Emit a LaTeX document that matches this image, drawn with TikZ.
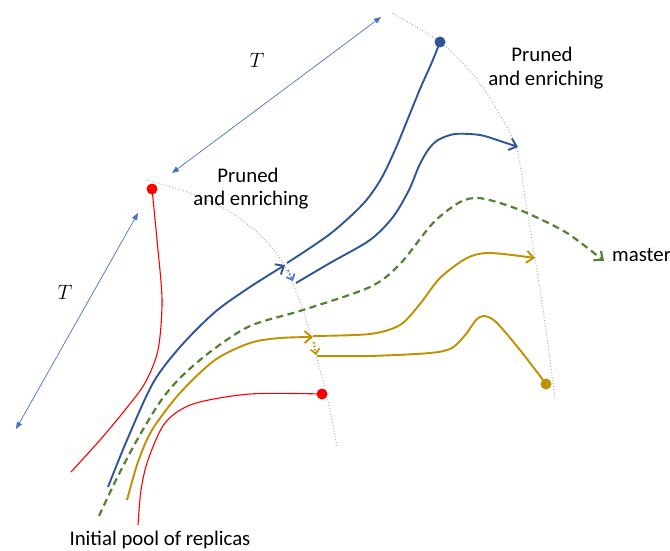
\documentclass[tikz,border=0pt]{standalone}
\usepackage{fontspec}
\setmainfont{Carlito}
\usetikzlibrary{arrows.meta}
\definecolor{trajblue}{HTML}{2F5597}
\definecolor{tblue}{HTML}{4472C4}
\definecolor{trajgreen}{HTML}{548235}
\definecolor{trajgold}{HTML}{BF9000}
\definecolor{trajred}{HTML}{FF0000}
\definecolor{frontgray}{HTML}{A6A6A6}
\tikzset{
  front/.style={frontgray, line width=0.9pt, dotted},
  span/.style={tblue, line width=0.7pt, {Triangle[length=7pt,width=5.5pt]}-{Triangle[length=7pt,width=5.5pt]}},
  bluetraj/.style={trajblue, line width=1.9pt},
  goldtraj/.style={trajgold, line width=1.9pt},
  redtraj/.style={trajred, line width=1.1pt},
  greentraj/.style={trajgreen, line width=2.2pt, dash pattern=on 7pt off 4.5pt},
  barb/.style={-{Straight Barb[length=7pt,width=12pt]}},
  smallbarb/.style={-{Straight Barb[length=5pt,width=9pt]}},
  jump/.style={line width=1.6pt, dotted},
  dot/.style={circle, inner sep=0pt, minimum size=11pt},
  lbl/.style={font=\fontsize{20.8}{24}\selectfont, inner sep=0pt},
  tlbl/.style={font=\fontsize{21}{24}\selectfont, inner sep=0pt},
}
\begin{document}
\begin{tikzpicture}[x=1pt,y=-1pt]
\useasboundingbox (0,0) rectangle (670,551);

% pruning fronts
\draw[front] plot[smooth] coordinates {(147,180) (190,193) (227,210) (260,235) (283,263) (303,310) (320,370) (330,410) (337,448)};
\draw[front] plot[smooth] coordinates {(392,13) (440,42) (475,77) (500,115) (517,150) (527,210) (538,277) (546,330) (555,398)};

% time spans
\coordinate (ta) at (172,173);
\coordinate (tb) at (381,17);
\coordinate (tc) at (16,429);
\coordinate (td) at (138,213);
\draw[span] (ta) -- (tb);
\draw[span] (tc) -- (td);
\node[tlbl] (T1) at (257,60) {$T$};
\node[tlbl] (T2) at (65,292) {$T$};

% labels
\node[lbl, anchor=base] (pr1) at (248,182) {Pruned};
\node[lbl, anchor=base] (en1) at (251,205) {and enriching};
\node[lbl, anchor=base] (pr2) at (542,62) {Pruned};
\node[lbl, anchor=base] (en2) at (546,85) {and enriching};
\node[lbl, anchor=base west] (ms) at (612,261) {master};
\node[lbl, anchor=base] (ini) at (160,545) {Initial pool of replicas};

% dots
\node[dot, fill=trajred] (r1) at (152,189) {};
\node[dot, fill=trajred] (r2) at (322,394) {};
\node[dot, fill=trajblue] (b1) at (440,42) {};
\node[dot, fill=trajgold] (g1) at (546,384) {};

% red replicas
\draw[redtraj] plot[smooth] coordinates {(r1.center) (157,240) (162,300) (158,350) (145,383) (125,410) (100,440) (71,472)};
\draw[redtraj] plot[smooth] coordinates {(138,525) (141,490) (148,460) (165,423) (193,404) (250,394) (r2.center)};

% blue replica and its clone
\draw[bluetraj, barb] plot[smooth] coordinates {(108,487) (127,440) (153,383) (180,347) (215,312) (250,287) (285,265)};
\draw[bluetraj] plot[smooth] coordinates {(287,263) (330,234) (363,204) (381,179) (395,150) (407,121) (420,89) (432,62) (b1.center)};
\draw[tblue, jump, smallbarb] (288,270) -- (293,281);
\draw[bluetraj, barb] plot[smooth] coordinates {(296,283) (330,263) (370,240) (393,217) (409,190) (419,166) (428,150) (438,140) (455,134) (480,135) (500,141) (518,147)};

% master replica
\draw[greentraj, barb] plot[smooth] coordinates {(99,516) (116,480) (137,440) (160,402) (180,378) (210,352) (250,326) (303,310) (370,287) (400,264) (433,223) (460,202) (478,198) (500,203) (527,213) (567,233) (604,261)};

% gold replica and its clone
\draw[goldtraj, barb] plot[smooth] coordinates {(127,500) (138,462) (152,430) (180,393) (215,360) (250,343) (280,338) (313,337)};
\draw[goldtraj, barb] plot[smooth] coordinates {(313,336) (370,334) (400,325) (420,304) (440,278) (467,258) (490,253) (535,258)};
\draw[trajgold, jump, smallbarb] (314,342) -- (316,355);
\draw[goldtraj] plot[smooth] coordinates {(317,356) (370,356) (430,353) (452,348) (466,334) (476,320) (484,316) (496,322) (520,350) (g1.center)};

\end{tikzpicture}
\end{document}
